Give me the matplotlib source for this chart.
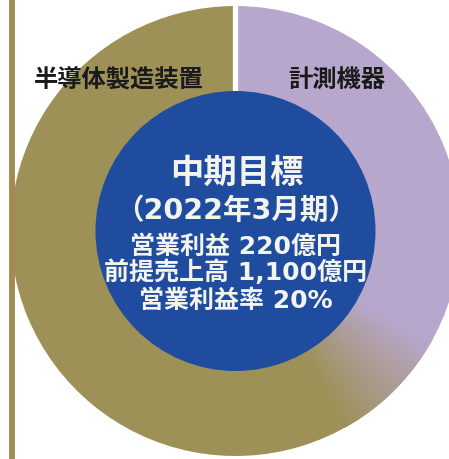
import matplotlib
matplotlib.use("Agg")
import matplotlib.pyplot as plt
import numpy as np
from matplotlib.patches import Circle, Wedge
from matplotlib.colors import to_rgb

plt.rcParams['font.family'] = ['DejaVu Sans', 'Noto Sans CJK JP']

# Data
segments = ["半導体製造装置", "計測機器"]
shares = [62.5, 37.5]
colors = ["#9D9158", "#B8A7CD"]
center_title = "中期目標"
center_period = "（2022年3月期）"
center_lines = ["営業利益 220億円", "前提売上高 1,100億円", "営業利益率 20%"]

W, H = 449, 460
fig = plt.figure(figsize=(W / 100, H / 100), dpi=100)
ax = fig.add_axes([0, 0, 1, 1])

cx, cy = 235.5, H - 232
R, r = 225, 140

ax.pie(shares, colors=colors, startangle=90, counterclock=True,
       radius=R, center=(cx, cy), wedgeprops=dict(linewidth=0),
       frame=True)
ax.set_xlim(0, W)
ax.set_ylim(0, H)
ax.set_aspect('equal')
ax.axis('off')

# soft colour blend at the lower boundary between the two segments
theta_b = 90 + 360 * shares[0] / sum(shares)
blend = 16
n = 40
c0, c1 = np.array(to_rgb(colors[0])), np.array(to_rgb(colors[1]))
edges = np.linspace(theta_b - blend, theta_b + blend, n + 1)
for i in range(n):
    t = (i + 0.5) / n
    col = c0 * (1 - t) + c1 * t
    ax.add_patch(Wedge((cx, cy), R, edges[i], edges[i + 1] + 0.3,
                       facecolor=col, edgecolor='none', zorder=2))

# white gap at top between segments
ax.plot([cx, cx], [cy, cy + R + 2], color='white', lw=3.8, solid_capstyle='butt', zorder=3)

# inner blue disc
ax.add_patch(Circle((cx, cy), r, facecolor="#1F4C9E", edgecolor='none', zorder=4))

# left vertical rule
ax.plot([12, 12], [0, H], color="#A28B50", lw=4.2, zorder=5)

# segment labels
ax.text(119, H - 80, segments[0], ha='center', va='center', fontsize=17.5,
        fontweight='bold', color='#1a1a1a', zorder=6)
ax.text(337, H - 80, segments[1], ha='center', va='center', fontsize=17.5,
        fontweight='bold', color='#1a1a1a', zorder=6)

# center text
tc = '#F4F4EE'
ax.text(237, H - 173, center_title, ha='center', va='center', fontsize=24,
        fontweight='bold', color=tc, zorder=6)
ax.text(236, H - 211, center_period, ha='center', va='center', fontsize=20.5,
        fontweight='bold', color=tc, zorder=6)
ys = [247, 272, 301]
for t, y in zip(center_lines, ys):
    ax.text(236, H - y, t, ha='center', va='center', fontsize=18,
            fontweight='bold', color=tc, zorder=6)

fig.savefig("out.png", dpi=100, facecolor='white')
